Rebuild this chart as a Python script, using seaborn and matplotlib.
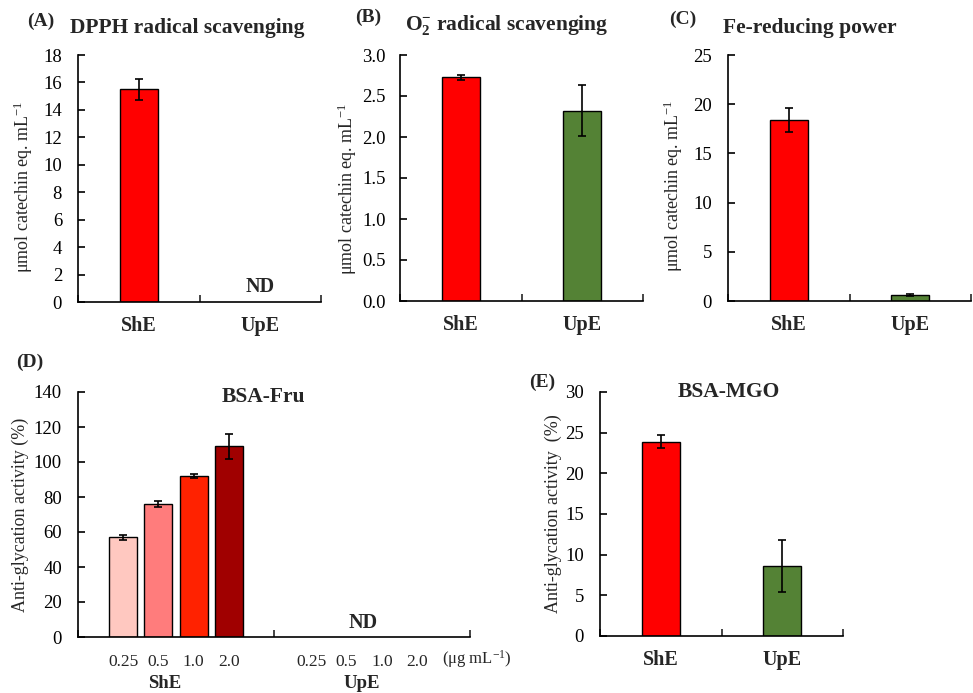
import numpy as np
import pandas as pd
import matplotlib
matplotlib.use("Agg")
import matplotlib.pyplot as plt
import matplotlib.transforms as mtransforms
import seaborn as sns

# ---------------- data ----------------
extracts = ["ShE", "UpE"]

dpph_vals = [15.5, np.nan]      # UpE: ND
dpph_err = [0.75, np.nan]

o2_vals = [2.73, 2.32]
o2_err = [0.03, 0.31]

fe_vals = [18.4, 0.6]
fe_err = [1.2, 0.1]

conc_labels = ["0.25", "0.5", "1.0", "2.0"]
fru_she_vals = [57.0, 76.0, 92.0, 109.0]
fru_she_err = [1.5, 1.5, 1.0, 7.0]
fru_upe_vals = [np.nan, np.nan, np.nan, np.nan]   # ND
fru_upe_err = [np.nan, np.nan, np.nan, np.nan]

mgo_vals = [23.9, 8.6]
mgo_err = [0.8, 3.2]

# ---------------- style ----------------
sns.set_theme(style="ticks")
plt.rcParams["font.family"] = ["Liberation Serif", "DejaVu Serif"]
plt.rcParams["mathtext.fontset"] = "custom"
plt.rcParams["mathtext.rm"] = "Liberation Serif"
plt.rcParams["mathtext.it"] = "Liberation Serif:italic"
plt.rcParams["mathtext.bf"] = "Liberation Serif:bold"
plt.rcParams["axes.linewidth"] = 1.2

RED = "#FF0000"
GREEN = "#548235"
CONC_COLORS = ["#FFC8C0", "#FF7C7C", "#FF2200", "#A00000"]

TICK_FS = 13.5
LABEL_FS = 13
TITLE_FS = 15.5
PANEL_FS = 14
CAT_FS = 14.5

fig = plt.figure(figsize=(9.73, 6.93), dpi=100)
W, H = 973.0, 693.0


def add_ax(left, right, top, bottom):
    return fig.add_axes([left / W, (H - bottom) / H, (right - left) / W, (bottom - top) / H])


def style_axis(ax, ylim, yticks, ylabel, lab_x, lab_y, xlabel_pad=10, ypad=11.5):
    sns.despine(ax=ax)
    ax.set_ylim(*ylim)
    ax.set_yticks(yticks)
    ax.set_xlim(-0.5, 1.5)
    ax.tick_params(axis="y", direction="in", length=5, width=1.2, pad=ypad,
                   labelsize=TICK_FS, colors="black")
    ax.tick_params(axis="x", which="major", length=0, pad=xlabel_pad, labelsize=CAT_FS)
    ax.set_xticks([-0.5, 0.5, 1.5], minor=True)
    ax.tick_params(axis="x", which="minor", direction="in", length=5, width=1.2)
    ax.set_ylabel(ylabel, fontsize=LABEL_FS)
    ax.yaxis.set_label_coords(lab_x, lab_y)
    ax.set_xlabel("")
    for s in ax.spines.values():
        s.set_color("black")


def simple_bars(ax, vals, errs, colors):
    df = pd.DataFrame({"extract": extracts, "value": vals})
    sns.barplot(data=df, x="extract", y="value", hue="extract", order=extracts,
                hue_order=extracts, palette=colors, width=0.31, edgecolor="black",
                linewidth=1.0, legend=False, ax=ax, saturation=1)
    xs = np.arange(len(extracts))
    v = np.array(vals, dtype=float)
    e = np.array(errs, dtype=float)
    ok = ~np.isnan(v)
    ax.errorbar(xs[ok], v[ok], yerr=e[ok], fmt="none", ecolor="black",
                elinewidth=1.2, capsize=3, capthick=1.2, zorder=5)


YLAB_MOL = r"μmol catechin eq. mL$^{-1}$"

# ---------------- (A) ----------------
axA = add_ax(78, 321, 55, 302)
simple_bars(axA, dpph_vals, dpph_err, [RED, GREEN])
style_axis(axA, (0, 18), np.arange(0, 19, 2), YLAB_MOL, -0.175, 0.466)
axA.set_xticks(range(len(extracts)), extracts, fontweight="bold")
axA.text(1, 0.06, "ND", transform=mtransforms.blended_transform_factory(axA.transData, axA.transAxes),
         ha="center", va="center", fontsize=14.5, fontweight="bold")
axA.text(0.449, 1.109, "DPPH radical scavenging", transform=axA.transAxes,
         ha="center", va="center", fontsize=TITLE_FS, fontweight="bold")

# ---------------- (B) ----------------
axB = add_ax(400, 643, 55, 301)
simple_bars(axB, o2_vals, o2_err, [RED, GREEN])
style_axis(axB, (0, 3.0), np.arange(0, 3.01, 0.5), YLAB_MOL, -0.168, 0.455, ypad=10.5)
axB.set_yticklabels([f"{t:.1f}" for t in np.arange(0, 3.01, 0.5)])
axB.set_xticks(range(len(extracts)), extracts, fontweight="bold")
axB.text(0.44, 1.122, r"O$_{\mathbf{2}}^{\mathbf{-}}$ radical scavenging", transform=axB.transAxes,
         ha="center", va="center", fontsize=TITLE_FS, fontweight="bold")

# ---------------- (C) ----------------
axC = add_ax(728, 971, 55, 301)
simple_bars(axC, fe_vals, fe_err, [RED, GREEN])
style_axis(axC, (0, 25), np.arange(0, 26, 5), YLAB_MOL, -0.175, 0.47)
axC.set_xticks(range(len(extracts)), extracts, fontweight="bold")
axC.text(0.337, 1.11, "Fe-reducing power", transform=axC.transAxes,
         ha="center", va="center", fontsize=TITLE_FS, fontweight="bold")

# ---------------- (D) ----------------
axD = add_ax(78, 470, 392, 637)
rows = []
for c, v in zip(conc_labels, fru_she_vals):
    rows.append({"extract": "ShE", "conc": c, "value": v})
for c, v in zip(conc_labels, fru_upe_vals):
    rows.append({"extract": "UpE", "conc": c, "value": v})
dfD = pd.DataFrame(rows)
sns.barplot(data=dfD, x="extract", y="value", hue="conc", order=extracts,
            hue_order=conc_labels, palette=CONC_COLORS, width=0.72, gap=0.2,
            edgecolor="black", linewidth=1.0, legend=False, ax=axD, saturation=1)
style_axis(axD, (0, 140), np.arange(0, 141, 20), "Anti-glycation activity (%)", -0.125, 0.498,
           xlabel_pad=12)
centers = []
for cont in axD.containers:
    b = cont[0]
    centers.append(b.get_x() + b.get_width() / 2)
centers = np.array(centers)
axD.errorbar(centers, fru_she_vals, yerr=fru_she_err, fmt="none", ecolor="black",
             elinewidth=1.2, capsize=3, capthick=1.2, zorder=5)
offs = centers - 0
tick_pos = list(offs + 0) + list(offs + 1 - 0.04)
axD.set_xticks(tick_pos, conc_labels + conc_labels)
axD.tick_params(axis="x", which="major", labelsize=12.5)
for i, name in enumerate(extracts):
    axD.annotate(name, xy=(i - 0.06 if i == 0 else i - 0.05, 0),
                 xycoords=("data", "axes fraction"), xytext=(0, -33.5),
                 textcoords="offset points", ha="center", va="center",
                 fontsize=13.5, fontweight="bold")
axD.annotate(r"(μg mL$^{-1}$)", xy=(1.357, 0), xycoords=("data", "axes fraction"),
             xytext=(0, -16), textcoords="offset points", ha="left", va="center",
             fontsize=12, annotation_clip=False)
axD.text(0.954, 8, "ND", ha="center", va="center", fontsize=14.5, fontweight="bold")
axD.text(0.474, 0.98, "BSA-Fru", transform=axD.transAxes, ha="center", va="center",
         fontsize=TITLE_FS, fontweight="bold")

# ---------------- (E) ----------------
axE = add_ax(600, 843, 392, 636)
simple_bars(axE, mgo_vals, mgo_err, [RED, GREEN])
style_axis(axE, (0, 30), np.arange(0, 31, 5), "Anti-glycation activity  (%)", -0.155, 0.5)
axE.set_xticks(range(len(extracts)), extracts, fontweight="bold")
axE.text(0.531, 1.0, "BSA-MGO", transform=axE.transAxes, ha="center", va="center",
         fontsize=TITLE_FS, fontweight="bold")

# ---------------- panel letters ----------------
for lab, x, y in [("(A)", 41, 21), ("(B)", 368, 17), ("(C)", 683, 19),
                  ("(D)", 30, 362), ("(E)", 542, 382)]:
    fig.text(x / W, 1 - y / H, lab, ha="center", va="center", fontsize=PANEL_FS, fontweight="bold")

fig.savefig("out.png", dpi=100)
